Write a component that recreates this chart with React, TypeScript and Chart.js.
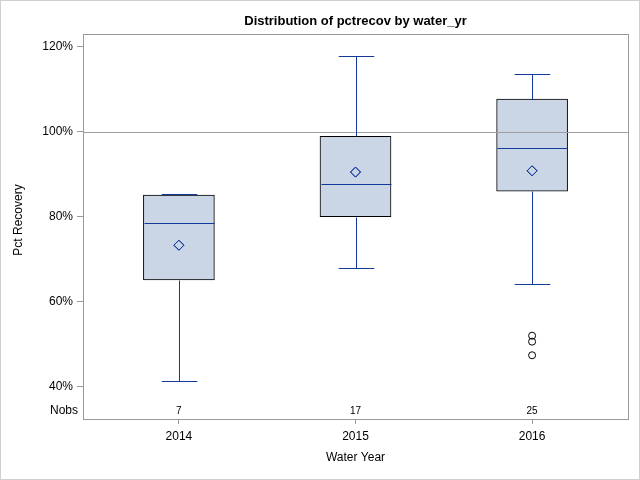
import React, { useEffect, useRef } from "react";
import { Chart, registerables } from "chart.js";

Chart.register(...registerables);

// ---- data ----
const years = ["2014", "2015", "2016"];
const whiskerLow = [41.3, 67.9, 64.1];
const q1 = [65.1, 80.0, 86.0];
const median = [78.5, 87.7, 96.1];
const q3 = [85.1, 98.9, 107.7];
const whiskerHigh = [85.3, 117.8, 113.5];
const means = [73.3, 90.5, 90.8];
const nobs = [7, 17, 25];
const outlierGroup = [2, 2, 2];
const outlierValues = [52.0, 50.6, 47.4];
const yTicks = [40, 60, 80, 100, 120];
const refValue = 100;

const FONT = "'Liberation Sans', Arial, sans-serif";
const BLUE = "#10399a";
const BOX_FILL = "#cad5e6";
const FRAME = "#9a9a9a";

const boxPlugin = {
  id: "boxExtras",
  afterDatasetsDraw(chart: any) {
    const { ctx, chartArea: a, scales } = chart;
    const x = scales.x;
    const y = scales.y;
    ctx.save();
    // reference line
    const ry = Math.round(y.getPixelForValue(refValue)) + 0.5;
    ctx.strokeStyle = "#a0a0a0";
    ctx.lineWidth = 1;
    ctx.beginPath();
    ctx.moveTo(a.left, ry);
    ctx.lineTo(a.right, ry);
    ctx.stroke();

    const meta = chart.getDatasetMeta(0);
    years.forEach((_, i) => {
      const bar = meta.data[i];
      const { width } = bar.getProps(["width"], true);
      const cx = Math.round(x.getPixelForValue(i)) + 0.5;
      const capHalf = width / 4;
      const px = (v: number) => Math.round(y.getPixelForValue(v)) + 0.5;
      ctx.strokeStyle = BLUE;
      ctx.lineWidth = 1;
      ctx.beginPath();
      // upper whisker
      ctx.moveTo(cx, px(q3[i]));
      ctx.lineTo(cx, px(whiskerHigh[i]));
      ctx.moveTo(cx - capHalf, px(whiskerHigh[i]));
      ctx.lineTo(cx + capHalf, px(whiskerHigh[i]));
      // lower whisker
      ctx.moveTo(cx, px(q1[i]));
      ctx.lineTo(cx, px(whiskerLow[i]));
      ctx.moveTo(cx - capHalf, px(whiskerLow[i]));
      ctx.lineTo(cx + capHalf, px(whiskerLow[i]));
      // median
      ctx.moveTo(cx - width / 2 + 0.5, px(median[i]));
      ctx.lineTo(cx + width / 2 - 0.5, px(median[i]));
      ctx.stroke();
    });

    // mean markers on top of the boxes
    const mMeta = chart.getDatasetMeta(1);
    mMeta.data.forEach((p: any) => p.draw(ctx, a));
    ctx.restore();
  },
  afterDraw(chart: any) {
    const { ctx, chartArea: a, scales } = chart;
    const x = scales.x;
    ctx.save();
    // plot frame
    ctx.strokeStyle = FRAME;
    ctx.lineWidth = 1;
    ctx.strokeRect(Math.round(a.left) + 0.5, Math.round(a.top) + 0.5, Math.round(a.right - a.left), Math.round(a.bottom - a.top));
    // outer border
    ctx.strokeStyle = "#cfcfcf";
    ctx.strokeRect(0.5, 0.5, chart.width - 1, chart.height - 1);

    ctx.fillStyle = "#000";
    // title
    ctx.font = `bold 13px ${FONT}`;
    ctx.textAlign = "center";
    ctx.textBaseline = "alphabetic";
    ctx.fillText("Distribution of pctrecov by water_yr", (a.left + a.right) / 2, 25);

    // x title
    ctx.font = `12px ${FONT}`;
    ctx.textBaseline = "middle";
    ctx.fillText("Water Year", (a.left + a.right) / 2, 458);

    // y title
    ctx.save();
    ctx.translate(19, 220);
    ctx.rotate(-Math.PI / 2);
    ctx.fillText("Pct Recovery", 0, 0);
    ctx.restore();

    // Nobs row
    ctx.textAlign = "right";
    ctx.fillText("Nobs", a.left - 5, 411);
    ctx.textAlign = "center";
    ctx.font = `10px ${FONT}`;
    nobs.forEach((n, i) => {
      ctx.fillText(String(n), x.getPixelForValue(i), 411);
    });
    ctx.restore();
  },
};

export default function App() {
  const ref = useRef<HTMLCanvasElement | null>(null);

  useEffect(() => {
    document.body.style.margin = "0";
    if (!ref.current) return;
    Chart.defaults.font.family = FONT;
    const chart = new Chart(ref.current, {
      type: "bar",
      data: {
        datasets: [
          {
            type: "bar",
            data: years.map((_, i) => ({ x: i, y: [q1[i], q3[i]] })) as any,
            backgroundColor: BOX_FILL,
            borderColor: "#000",
            borderWidth: 1,
            borderSkipped: false,
            barThickness: 71,
            order: 2,
          } as any,
          {
            type: "scatter",
            data: years.map((_, i) => ({ x: i, y: means[i] })),
            pointStyle: "rectRot",
            pointRadius: 5,
            borderColor: BLUE,
            backgroundColor: "rgba(0,0,0,0)",
            borderWidth: 1,
            order: 1,
          } as any,
          {
            type: "scatter",
            data: outlierValues.map((v, i) => ({ x: outlierGroup[i], y: v })),
            pointStyle: "circle",
            pointRadius: 3.5,
            borderColor: "#000",
            backgroundColor: "rgba(0,0,0,0)",
            borderWidth: 1,
            order: 0,
          } as any,
        ],
      },
      options: {
        responsive: false,
        animation: false,
        devicePixelRatio: 1,
        events: [],
        layout: { padding: { top: 34, right: 12, left: 0, bottom: 0 } },
        plugins: {
          legend: { display: false },
          tooltip: { enabled: false },
          title: { display: false },
        },
        scales: {
          x: {
            type: "linear",
            offset: false,
            min: -0.543,
            max: 2.543,
            afterBuildTicks: (s: any) => {
              s.ticks = years.map((_, i) => ({ value: i }));
            },
            afterFit: (s: any) => {
              s.height = 61;
            },
            ticks: {
              callback: (v: any) => years[v as number] ?? "",
              font: { size: 12 },
              color: "#000",
              padding: 5,
              maxRotation: 0,
            },
            grid: {
              offset: false,
              drawOnChartArea: false,
              drawTicks: true,
              tickLength: 5,
              color: FRAME,
            },
            border: { display: false },
          } as any,
          y: {
            type: "linear",
            min: 32.4,
            max: 123,
            afterBuildTicks: (s: any) => {
              s.ticks = yTicks.map((v) => ({ value: v }));
            },
            afterFit: (s: any) => {
              s.width = 83;
            },
            ticks: {
              callback: (v: any) => `${v}%`,
              font: { size: 12 },
              color: "#000",
              padding: 4,
            },
            grid: {
              drawOnChartArea: false,
              drawTicks: true,
              tickLength: 6,
              color: FRAME,
            },
            border: { display: false },
          } as any,
        },
      },
      plugins: [boxPlugin],
    });
    return () => chart.destroy();
  }, []);

  return (
    <div style={{ width: 640, height: 480 }}>
      <canvas ref={ref} width={640} height={480} style={{ display: "block" }} />
    </div>
  );
}
